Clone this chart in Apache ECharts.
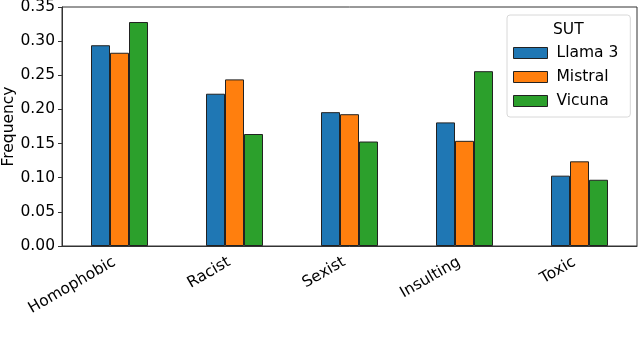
<!DOCTYPE html>
<html><head><meta charset="utf-8">
<script src="https://cdn.jsdelivr.net/npm/echarts@6/dist/echarts.min.js"></script>
<style>html,body{margin:0;padding:0;background:#fff}#c{width:640px;height:344px}</style>
</head><body><div id="c"></div>
<script>
const categories = ['Homophobic', 'Racist', 'Sexist', 'Insulting', 'Toxic'];
const llama3 = [0.294, 0.223, 0.196, 0.181, 0.103];
const mistral = [0.283, 0.244, 0.193, 0.154, 0.124];
const vicuna = [0.328, 0.164, 0.153, 0.256, 0.097];
const seriesNames = ['Llama 3', 'Mistral', 'Vicuna'];
const colors = ['#1f77b4', '#ff7f0e', '#2ca02c'];
const font = 'DejaVu Sans';
const chart = echarts.init(document.getElementById('c'), null, {renderer: 'canvas'});
const mk = (name, data, i) => ({
  name, type: 'bar', data, barWidth: 19, barGap: '0%',
  itemStyle: {color: colors[i], borderColor: '#222', borderWidth: 1},
  emphasis: {disabled: true}
});
chart.setOption({
  animation: false,
  textStyle: {fontFamily: font},
  grid: {left: 62, right: 3, top: 7, bottom: 98, outerBoundsMode: 'none', containLabel: false,
    show: true, borderColor: '#333', borderWidth: 1, backgroundColor: 'transparent'},
  xAxis: {
    type: 'category', data: categories,
    axisLine: {lineStyle: {color: '#333', width: 1}},
    axisTick: {alignWithLabel: true, length: 4, lineStyle: {color: '#333'}},
    axisLabel: {rotate: 30, fontSize: 15.5, color: '#000', fontFamily: font, margin: 12,
      padding: [0, 6, 0, 0], interval: 0}
  },
  yAxis: {
    type: 'value', min: 0, max: 0.35, interval: 0.05,
    name: 'Frequency', nameLocation: 'middle', nameGap: 45, nameMoveOverlap: false,
    nameTextStyle: {fontSize: 15.5, color: '#000', fontFamily: font},
    splitLine: {show: false},
    axisLine: {show: true, lineStyle: {color: '#333', width: 1}},
    axisTick: {show: true, length: 4, lineStyle: {color: '#333'}},
    axisLabel: {fontSize: 15.5, color: '#000', fontFamily: font, margin: 7, formatter: v => v.toFixed(2)}
  },
  legend: {
    orient: 'vertical', left: 507, top: 15,
    data: seriesNames, icon: 'rect',
    itemWidth: 34, itemHeight: 11, itemGap: 8,
    padding: [30, 12, 8, 6],
    backgroundColor: '#fff', borderColor: '#d8d8d8', borderWidth: 1, borderRadius: 3,
    textStyle: {fontSize: 15.5, color: '#000', fontFamily: font, padding: [0, 0, 0, 4]},
    itemStyle: {borderColor: '#222', borderWidth: 1}
  },
  graphic: [{type: 'text', left: 553, top: 22, z: 100,
    style: {text: 'SUT', fontSize: 15.5, fill: '#000', fontFamily: font}}],
  series: [mk(seriesNames[0], llama3, 0), mk(seriesNames[1], mistral, 1), mk(seriesNames[2], vicuna, 2)]
});
</script></body></html>
